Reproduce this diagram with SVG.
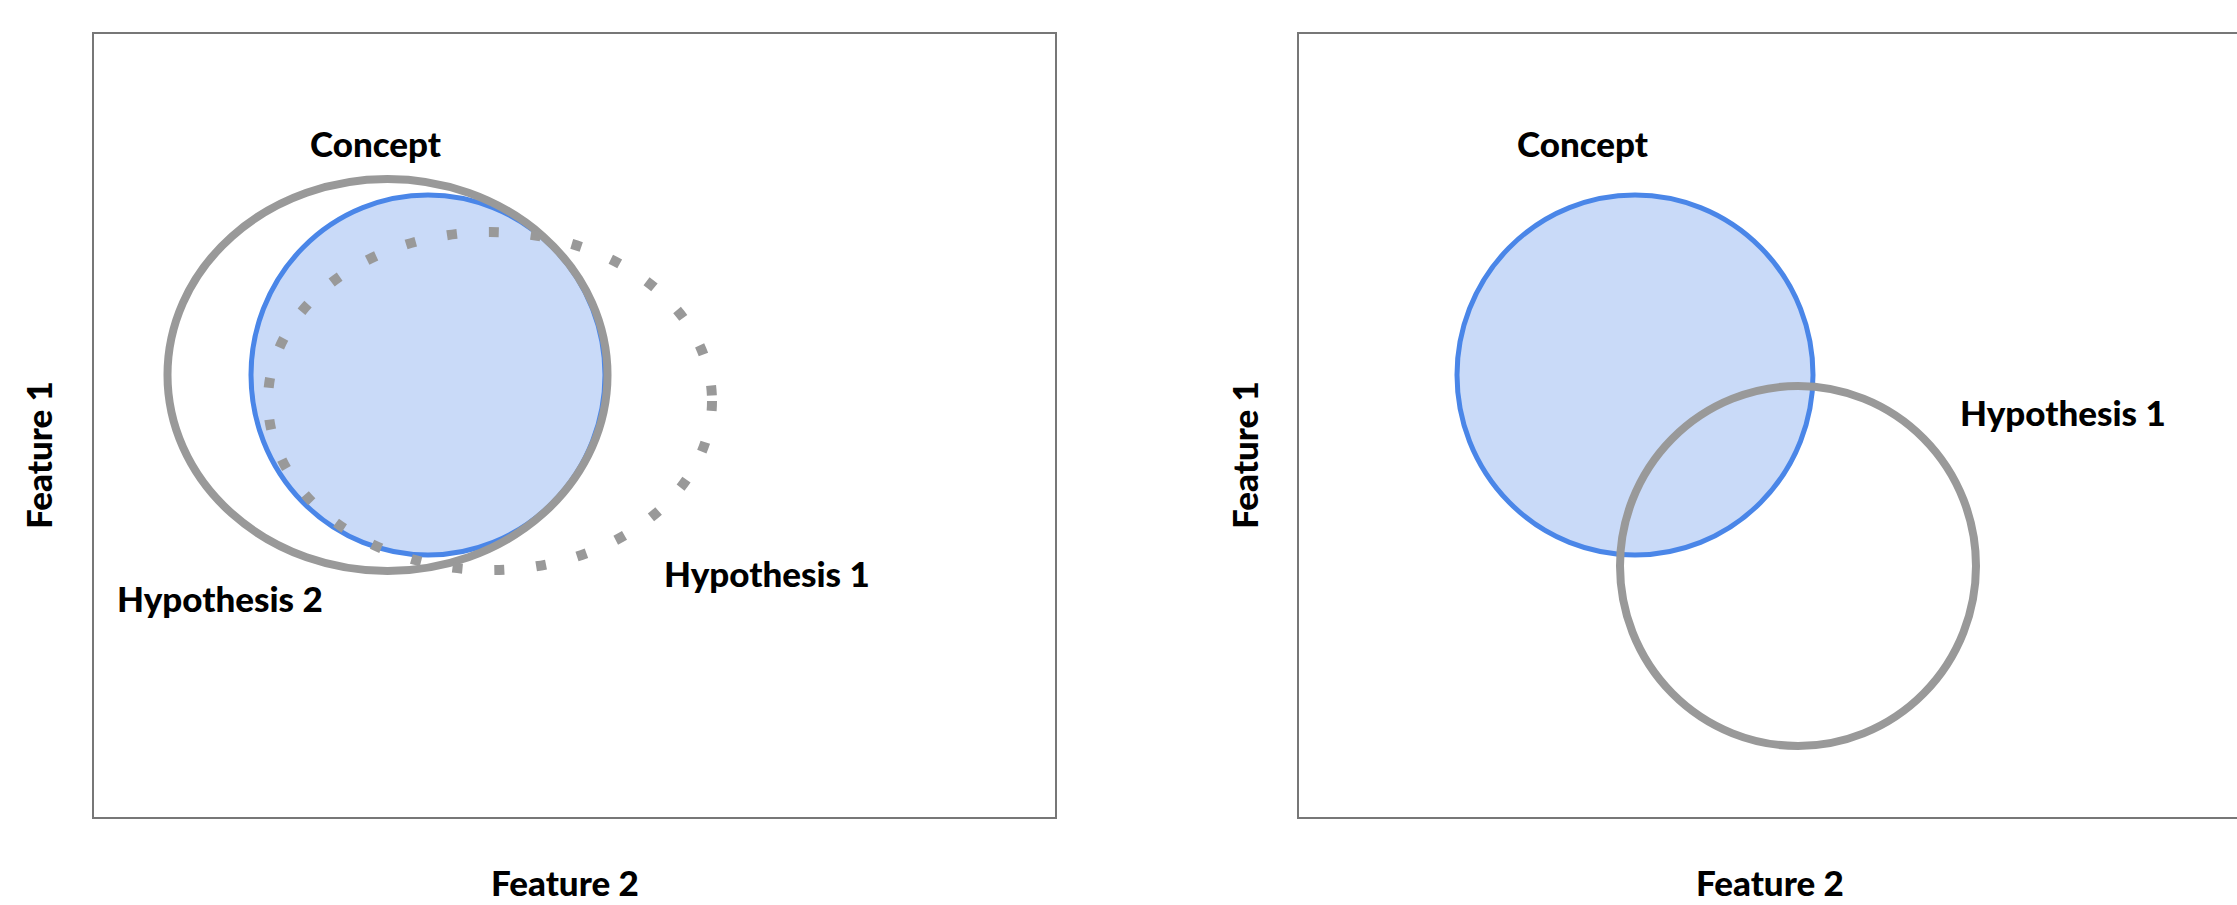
<svg xmlns="http://www.w3.org/2000/svg" width="2237" height="905" viewBox="0 0 2237 905">
<style>
.frame{fill:none;stroke:#777;stroke-width:2}
.lbl{font-family:Lato,"Liberation Sans",sans-serif;font-weight:900;font-size:35px;fill:#000}
.concept{fill:#c9daf8;stroke:#4a86e8;stroke-width:5}
.hyp{fill:none;stroke:#999;stroke-width:8}
.hypdot{fill:none;stroke:#999;stroke-width:10;stroke-dasharray:10 32}
</style>
<rect width="2237" height="905" fill="#fff"/>
<g id="left-panel">
<rect class="frame" x="93" y="33" width="963" height="785"/>
<text class="lbl" transform="translate(52,455) rotate(-90)" text-anchor="middle">Feature 1</text>
<text class="lbl" x="491" y="896">Feature 2</text>
</g>
<g id="left-concept">
<ellipse class="concept" cx="428" cy="375" rx="177" ry="180"/>
<text class="lbl" x="310" y="157">Concept</text>
</g>
<g id="left-hypothesis2">
<ellipse class="hyp" cx="387.5" cy="375" rx="220" ry="196"/>
<text class="lbl" x="117" y="612">Hypothesis 2</text>
</g>
<g id="left-hypothesis1">
<ellipse class="hypdot" cx="490" cy="401" rx="222" ry="169"/>
<text class="lbl" x="664" y="587">Hypothesis 1</text>
</g>
<g id="right-panel">
<path class="frame" d="M2240 33 H1298 V818 H2240"/>
<text class="lbl" transform="translate(1258,455) rotate(-90)" text-anchor="middle">Feature 1</text>
<text class="lbl" x="1696" y="896">Feature 2</text>
</g>
<g id="right-concept">
<ellipse class="concept" cx="1635" cy="375" rx="178" ry="180"/>
<text class="lbl" x="1517" y="157">Concept</text>
</g>
<g id="right-hypothesis1">
<ellipse class="hyp" cx="1798" cy="566" rx="178" ry="180"/>
<text class="lbl" x="1960" y="426">Hypothesis 1</text>
</g>
<g id="connectors"/>
</svg>
